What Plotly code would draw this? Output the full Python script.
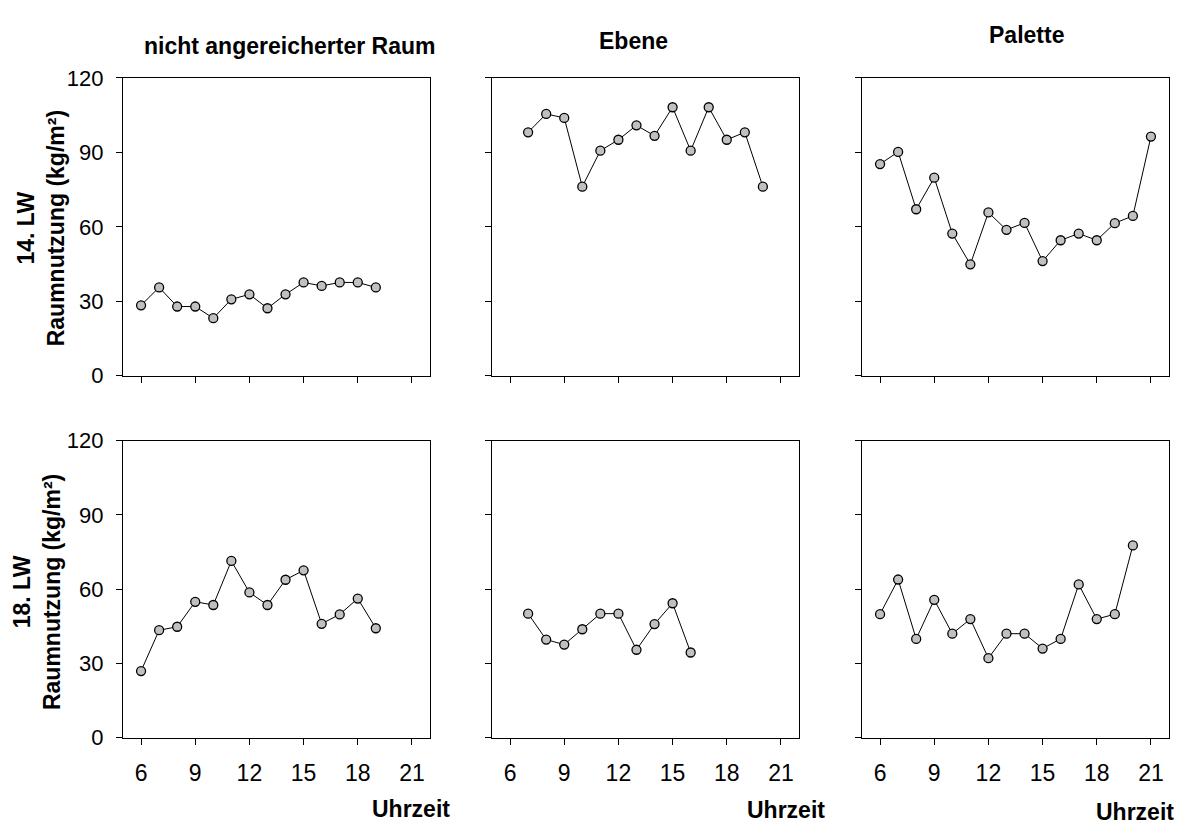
import plotly.graph_objects as go

W, H = 1181, 834

# --- data ---
hours_14_raum = [6, 7, 8, 9, 10, 11, 12, 13, 14, 15, 16, 17, 18, 19]
vals_14_raum = [28.4, 35.6, 27.9, 27.9, 23.2, 30.8, 32.8, 27.2, 32.8, 37.6, 36.2, 37.6, 37.6, 35.6]

hours_14_ebene = [7, 8, 9, 10, 11, 12, 13, 14, 15, 16, 17, 18, 19, 20]
vals_14_ebene = [98.1, 105.5, 103.9, 76.2, 90.7, 95.1, 100.9, 96.7, 108.2, 90.7, 108.2, 95.1, 98.1, 76.2]

hours_14_palette = [6, 7, 8, 9, 10, 11, 12, 13, 14, 15, 16, 17, 18, 19, 20, 21]
vals_14_palette = [85.3, 90.2, 67.1, 79.8, 57.3, 44.9, 65.8, 58.8, 61.6, 46.2, 54.6, 57.3, 54.6, 61.5, 64.4, 96.4]

hours_18_raum = [6, 7, 8, 9, 10, 11, 12, 13, 14, 15, 16, 17, 18, 19]
vals_18_raum = [26.9, 43.4, 44.8, 54.9, 53.6, 71.4, 58.7, 53.6, 63.8, 67.6, 46.0, 49.8, 56.2, 44.2]

hours_18_ebene = [7, 8, 9, 10, 11, 12, 13, 14, 15, 16]
vals_18_ebene = [50.1, 39.6, 37.6, 43.8, 50.1, 50.1, 35.5, 45.9, 54.3, 34.4]

hours_18_palette = [6, 7, 8, 9, 10, 11, 12, 13, 14, 15, 16, 17, 18, 19, 20]
vals_18_palette = [49.9, 63.9, 39.9, 55.7, 42.0, 47.9, 32.1, 42.0, 42.0, 36.0, 39.9, 61.9, 47.9, 49.9, 77.7]

column_titles = ["nicht angereicherter Raum", "Ebene", "Palette"]
row_titles = ["14. LW<br>Raumnutzung (kg/m²)", "18. LW<br>Raumnutzung (kg/m²)"]
x_title = "Uhrzeit"
x_tick_vals = [6, 9, 12, 15, 18, 21]
y_tick_vals = [0, 30, 60, 90, 120]

series = [
    (hours_14_raum, vals_14_raum),
    (hours_14_ebene, vals_14_ebene),
    (hours_14_palette, vals_14_palette),
    (hours_18_raum, vals_18_raum),
    (hours_18_ebene, vals_18_ebene),
    (hours_18_palette, vals_18_palette),
]

# --- layout geometry (pixels) ---
col_px = [(123, 430), (492, 799), (862, 1169)]
row_px = [(68, 375), (442, 748)]

FONT = "Liberation Sans, Arial, sans-serif"

fig = go.Figure()
layout = dict(
    width=W, height=H,
    margin=dict(l=0, r=0, t=0, b=0),
    paper_bgcolor="white", plot_bgcolor="white",
    showlegend=False,
    font=dict(family=FONT, color="black"),
)

for i, (xs, ys) in enumerate(series):
    r, c = divmod(i, 3)
    n = i + 1
    xa = "x" if n == 1 else f"x{n}"
    ya = "y" if n == 1 else f"y{n}"
    fig.add_trace(go.Scatter(
        x=xs, y=ys, mode="lines+markers",
        line=dict(color="black", width=1),
        marker=dict(size=9, color="#c0c0c0", line=dict(color="black", width=1.3)),
        xaxis=xa, yaxis=ya,
    ))
    x0, x1 = col_px[c]
    y0, y1 = row_px[r]
    xkey = "xaxis" if n == 1 else f"xaxis{n}"
    ykey = "yaxis" if n == 1 else f"yaxis{n}"
    layout[xkey] = dict(
        domain=[x0 / W, x1 / W], anchor=ya, range=[5, 22],
        tickmode="array", tickvals=x_tick_vals,
        showticklabels=(r == 1),
        ticks="outside", ticklen=6, tickwidth=1, tickcolor="black",
        showline=True, linecolor="black", linewidth=1.3, mirror=True,
        showgrid=False, zeroline=False,
        tickfont=dict(size=23, family=FONT, color="black"),
        ticklabelstandoff=9,
    )
    layout[ykey] = dict(
        domain=[1 - y1 / H, 1 - y0 / H], anchor=xa, range=[0, 120],
        tickmode="array", tickvals=y_tick_vals,
        showticklabels=(c == 0),
        ticks="outside", ticklen=6, tickwidth=1, tickcolor="black",
        showline=True, linecolor="black", linewidth=1.3, mirror=True,
        showgrid=False, zeroline=False,
        tickfont=dict(size=22, family=FONT, color="black"),
        ticklabelstandoff=8,
    )

fig.update_layout(**layout)

ann_font = dict(family=FONT, size=23, color="black")
def px_ann(text, px, py, **kw):
    fig.add_annotation(
        text="<b>" + text.replace("<br>", "</b><br><b>") + "</b>",
        x=px / W, y=1 - py / H, xref="paper", yref="paper",
        xanchor="center", yanchor="middle", showarrow=False,
        font=ann_font, **kw)

# column titles
px_ann(column_titles[0], 289, 35)
px_ann(column_titles[1], 633, 30)
px_ann(column_titles[2], 1026, 24)

# row (y-axis) titles
px_ann(row_titles[0], 41, 223, textangle=-90)
px_ann(row_titles[1], 37, 598, textangle=-90)

# x titles
px_ann(x_title, 411, 822)
px_ann(x_title, 786, 823)
px_ann(x_title, 1135, 825)

fig.write_html("out.html")
